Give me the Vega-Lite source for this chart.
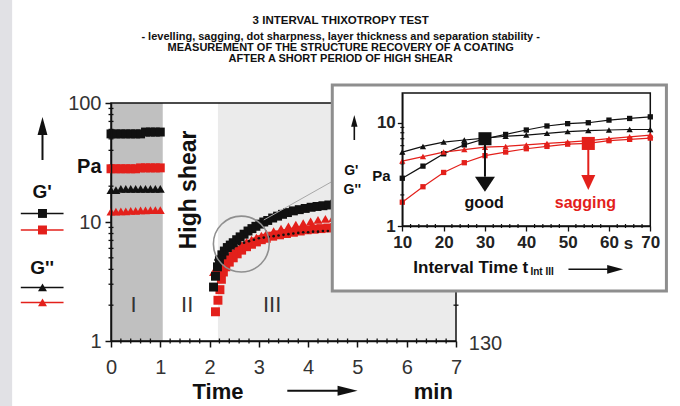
{
"$schema": "https://vega.github.io/schema/vega-lite/v6.json",
"width": 345, "height": 238,
"autosize": "none",
"padding": {"left": 111, "top": 103, "right": 224, "bottom": 65},
"background": "white",
"config": {"view": {"stroke": null}, "font": "Liberation Sans"},
"datasets": {
 "main": [
  {"p":"I","s":"Gp_good","t":0,"v":55},{"p":"I","s":"Gp_good","t":0.1,"v":55},{"p":"I","s":"Gp_good","t":0.2,"v":55},{"p":"I","s":"Gp_good","t":0.3,"v":55},{"p":"I","s":"Gp_good","t":0.4,"v":55},{"p":"I","s":"Gp_good","t":0.5,"v":55},{"p":"I","s":"Gp_good","t":0.6,"v":55},{"p":"I","s":"Gp_good","t":0.7,"v":57},{"p":"I","s":"Gp_good","t":0.8,"v":57},{"p":"I","s":"Gp_good","t":0.9,"v":57},{"p":"I","s":"Gp_good","t":1.0,"v":57},
  {"p":"I","s":"Gp_sag","t":0,"v":28},{"p":"I","s":"Gp_sag","t":0.1,"v":28},{"p":"I","s":"Gp_sag","t":0.2,"v":28},{"p":"I","s":"Gp_sag","t":0.3,"v":28},{"p":"I","s":"Gp_sag","t":0.4,"v":28},{"p":"I","s":"Gp_sag","t":0.5,"v":28},{"p":"I","s":"Gp_sag","t":0.6,"v":28.5},{"p":"I","s":"Gp_sag","t":0.7,"v":28.5},{"p":"I","s":"Gp_sag","t":0.8,"v":28.5},{"p":"I","s":"Gp_sag","t":0.9,"v":28.5},{"p":"I","s":"Gp_sag","t":1.0,"v":28.5},
  {"p":"I","s":"Gpp_good","t":0,"v":18.5},{"p":"I","s":"Gpp_good","t":0.1,"v":18.5},{"p":"I","s":"Gpp_good","t":0.2,"v":19},{"p":"I","s":"Gpp_good","t":0.3,"v":19},{"p":"I","s":"Gpp_good","t":0.4,"v":19},{"p":"I","s":"Gpp_good","t":0.5,"v":19},{"p":"I","s":"Gpp_good","t":0.6,"v":19},{"p":"I","s":"Gpp_good","t":0.7,"v":19},{"p":"I","s":"Gpp_good","t":0.8,"v":19},{"p":"I","s":"Gpp_good","t":0.9,"v":19},{"p":"I","s":"Gpp_good","t":1.0,"v":19},
  {"p":"I","s":"Gpp_sag","t":0,"v":12.2},{"p":"I","s":"Gpp_sag","t":0.1,"v":12.2},{"p":"I","s":"Gpp_sag","t":0.2,"v":12.3},{"p":"I","s":"Gpp_sag","t":0.3,"v":12.3},{"p":"I","s":"Gpp_sag","t":0.4,"v":12.4},{"p":"I","s":"Gpp_sag","t":0.5,"v":12.4},{"p":"I","s":"Gpp_sag","t":0.6,"v":12.5},{"p":"I","s":"Gpp_sag","t":0.7,"v":12.5},{"p":"I","s":"Gpp_sag","t":0.8,"v":12.6},{"p":"I","s":"Gpp_sag","t":0.9,"v":12.6},{"p":"I","s":"Gpp_sag","t":1.0,"v":12.6},
  {"p":"III","s":"Gpp_sag","t":2.08,"v":3.8},{"p":"III","s":"Gpp_sag","t":2.14,"v":4.1},{"p":"III","s":"Gpp_sag","t":2.2,"v":4.4},{"p":"III","s":"Gpp_sag","t":2.28,"v":4.8},{"p":"III","s":"Gpp_sag","t":2.36,"v":5.2},{"p":"III","s":"Gpp_sag","t":2.45,"v":5.6},{"p":"III","s":"Gpp_sag","t":2.55,"v":6.0},{"p":"III","s":"Gpp_sag","t":2.65,"v":6.4},{"p":"III","s":"Gpp_sag","t":2.75,"v":6.8},{"p":"III","s":"Gpp_sag","t":2.85,"v":7.1},{"p":"III","s":"Gpp_sag","t":2.95,"v":7.4},{"p":"III","s":"Gpp_sag","t":3.05,"v":7.7},{"p":"III","s":"Gpp_sag","t":3.15,"v":8.0},{"p":"III","s":"Gpp_sag","t":3.3,"v":8.4},{"p":"III","s":"Gpp_sag","t":3.45,"v":8.8},{"p":"III","s":"Gpp_sag","t":3.6,"v":9.2},{"p":"III","s":"Gpp_sag","t":3.75,"v":9.5},{"p":"III","s":"Gpp_sag","t":3.9,"v":9.8},{"p":"III","s":"Gpp_sag","t":4.05,"v":10.1},{"p":"III","s":"Gpp_sag","t":4.2,"v":10.4},{"p":"III","s":"Gpp_sag","t":4.35,"v":10.6},{"p":"III","s":"Gpp_sag","t":4.5,"v":10.8},
  {"p":"III","s":"Gp_sag","t":2.12,"v":1.76},{"p":"III","s":"Gp_sag","t":2.17,"v":2.2},{"p":"III","s":"Gp_sag","t":2.21,"v":2.7},{"p":"III","s":"Gp_sag","t":2.24,"v":3.3},{"p":"III","s":"Gp_sag","t":2.28,"v":3.8},{"p":"III","s":"Gp_sag","t":2.33,"v":4.2},{"p":"III","s":"Gp_sag","t":2.4,"v":4.6},{"p":"III","s":"Gp_sag","t":2.48,"v":5.0},{"p":"III","s":"Gp_sag","t":2.56,"v":5.4},{"p":"III","s":"Gp_sag","t":2.65,"v":5.8},{"p":"III","s":"Gp_sag","t":2.75,"v":6.2},{"p":"III","s":"Gp_sag","t":2.85,"v":6.5},{"p":"III","s":"Gp_sag","t":2.95,"v":6.8},{"p":"III","s":"Gp_sag","t":3.05,"v":7.1},{"p":"III","s":"Gp_sag","t":3.15,"v":7.3},{"p":"III","s":"Gp_sag","t":3.28,"v":7.6},{"p":"III","s":"Gp_sag","t":3.42,"v":7.8},{"p":"III","s":"Gp_sag","t":3.56,"v":8.0},{"p":"III","s":"Gp_sag","t":3.7,"v":8.2},{"p":"III","s":"Gp_sag","t":3.84,"v":8.4},{"p":"III","s":"Gp_sag","t":3.98,"v":8.6},{"p":"III","s":"Gp_sag","t":4.12,"v":8.7},{"p":"III","s":"Gp_sag","t":4.26,"v":8.8},{"p":"III","s":"Gp_sag","t":4.4,"v":8.9},{"p":"III","s":"Gp_sag","t":4.54,"v":9.0},
  {"p":"III","s":"Gp_good","t":2.08,"v":2.84},{"p":"III","s":"Gp_good","t":2.12,"v":3.5},{"p":"III","s":"Gp_good","t":2.16,"v":4.2},{"p":"III","s":"Gp_good","t":2.2,"v":4.8},{"p":"III","s":"Gp_good","t":2.25,"v":5.3},{"p":"III","s":"Gp_good","t":2.3,"v":5.7},{"p":"III","s":"Gp_good","t":2.36,"v":6.1},{"p":"III","s":"Gp_good","t":2.42,"v":6.4},{"p":"III","s":"Gp_good","t":2.48,"v":6.7},{"p":"III","s":"Gp_good","t":2.55,"v":7.1},{"p":"III","s":"Gp_good","t":2.62,"v":7.5},{"p":"III","s":"Gp_good","t":2.7,"v":7.9},{"p":"III","s":"Gp_good","t":2.78,"v":8.4},{"p":"III","s":"Gp_good","t":2.86,"v":8.8},{"p":"III","s":"Gp_good","t":2.94,"v":9.2},{"p":"III","s":"Gp_good","t":3.02,"v":9.6},{"p":"III","s":"Gp_good","t":3.1,"v":10.0},{"p":"III","s":"Gp_good","t":3.18,"v":10.3},{"p":"III","s":"Gp_good","t":3.28,"v":10.8},{"p":"III","s":"Gp_good","t":3.38,"v":11.2},{"p":"III","s":"Gp_good","t":3.48,"v":11.6},{"p":"III","s":"Gp_good","t":3.58,"v":12.0},{"p":"III","s":"Gp_good","t":3.7,"v":12.4},{"p":"III","s":"Gp_good","t":3.82,"v":12.7},{"p":"III","s":"Gp_good","t":3.94,"v":13.0},{"p":"III","s":"Gp_good","t":4.06,"v":13.3},{"p":"III","s":"Gp_good","t":4.18,"v":13.5},{"p":"III","s":"Gp_good","t":4.3,"v":13.7},{"p":"III","s":"Gp_good","t":4.42,"v":13.9},{"p":"III","s":"Gp_good","t":4.54,"v":14.1},
  {"p":"III","s":"Gpp_good","t":2.12,"v":4.8},{"p":"III","s":"Gpp_good","t":2.2,"v":5.2},{"p":"III","s":"Gpp_good","t":2.3,"v":5.6},{"p":"III","s":"Gpp_good","t":2.4,"v":5.9},{"p":"III","s":"Gpp_good","t":2.5,"v":6.2},{"p":"III","s":"Gpp_good","t":2.6,"v":6.5},{"p":"III","s":"Gpp_good","t":2.7,"v":6.7},{"p":"III","s":"Gpp_good","t":2.8,"v":6.9},{"p":"III","s":"Gpp_good","t":2.9,"v":7.1},{"p":"III","s":"Gpp_good","t":3.0,"v":7.3},{"p":"III","s":"Gpp_good","t":3.1,"v":7.4},{"p":"III","s":"Gpp_good","t":3.2,"v":7.5},{"p":"III","s":"Gpp_good","t":3.3,"v":7.6},{"p":"III","s":"Gpp_good","t":3.4,"v":7.7},{"p":"III","s":"Gpp_good","t":3.5,"v":7.8},{"p":"III","s":"Gpp_good","t":3.6,"v":7.9},{"p":"III","s":"Gpp_good","t":3.7,"v":8.0},{"p":"III","s":"Gpp_good","t":3.8,"v":8.1},{"p":"III","s":"Gpp_good","t":3.9,"v":8.2},{"p":"III","s":"Gpp_good","t":4.0,"v":8.2},{"p":"III","s":"Gpp_good","t":4.1,"v":8.3},{"p":"III","s":"Gpp_good","t":4.2,"v":8.3},{"p":"III","s":"Gpp_good","t":4.3,"v":8.4},{"p":"III","s":"Gpp_good","t":4.4,"v":8.4},{"p":"III","s":"Gpp_good","t":4.5,"v":8.5},
  {"p":"legend","s":"Gp_good","t":-1.39,"v":11.8},{"p":"legend","s":"Gp_sag","t":-1.39,"v":8.57},{"p":"legend","s":"Gpp_good","t":-1.39,"v":2.82},{"p":"legend","s":"Gpp_sag","t":-1.39,"v":2.11}
 ],
 "inset": [
  {"s":"Gp_good","t":10,"v":2.9},{"s":"Gp_good","t":15,"v":3.8},{"s":"Gp_good","t":20,"v":5.0},{"s":"Gp_good","t":25,"v":6.1},{"s":"Gp_good","t":30,"v":7.0},{"s":"Gp_good","t":35,"v":7.7},{"s":"Gp_good","t":40,"v":8.5},{"s":"Gp_good","t":45,"v":9.3},{"s":"Gp_good","t":50,"v":9.8},{"s":"Gp_good","t":55,"v":10.0},{"s":"Gp_good","t":60,"v":10.6},{"s":"Gp_good","t":65,"v":11.0},{"s":"Gp_good","t":70,"v":11.4},
  {"s":"Gpp_good","t":10,"v":5.2},{"s":"Gpp_good","t":15,"v":5.9},{"s":"Gpp_good","t":20,"v":6.5},{"s":"Gpp_good","t":25,"v":6.8},{"s":"Gpp_good","t":30,"v":7.1},{"s":"Gpp_good","t":35,"v":7.4},{"s":"Gpp_good","t":40,"v":7.6},{"s":"Gpp_good","t":45,"v":7.9},{"s":"Gpp_good","t":50,"v":8.2},{"s":"Gpp_good","t":55,"v":8.4},{"s":"Gpp_good","t":60,"v":8.5},{"s":"Gpp_good","t":65,"v":8.6},{"s":"Gpp_good","t":70,"v":8.6},
  {"s":"Gpp_sag","t":10,"v":4.25},{"s":"Gpp_sag","t":15,"v":4.7},{"s":"Gpp_sag","t":20,"v":5.2},{"s":"Gpp_sag","t":25,"v":5.5},{"s":"Gpp_sag","t":30,"v":5.8},{"s":"Gpp_sag","t":35,"v":5.9},{"s":"Gpp_sag","t":40,"v":6.1},{"s":"Gpp_sag","t":45,"v":6.3},{"s":"Gpp_sag","t":50,"v":6.5},{"s":"Gpp_sag","t":55,"v":6.7},{"s":"Gpp_sag","t":60,"v":7.0},{"s":"Gpp_sag","t":65,"v":7.3},{"s":"Gpp_sag","t":70,"v":7.6},
  {"s":"Gp_sag","t":10,"v":1.7},{"s":"Gp_sag","t":15,"v":2.4},{"s":"Gp_sag","t":20,"v":3.3},{"s":"Gp_sag","t":25,"v":4.1},{"s":"Gp_sag","t":30,"v":4.8},{"s":"Gp_sag","t":35,"v":5.2},{"s":"Gp_sag","t":40,"v":5.6},{"s":"Gp_sag","t":45,"v":5.9},{"s":"Gp_sag","t":50,"v":6.2},{"s":"Gp_sag","t":55,"v":6.3},{"s":"Gp_sag","t":60,"v":6.7},{"s":"Gp_sag","t":65,"v":6.9},{"s":"Gp_sag","t":70,"v":7.1}
 ],
 "mainMinorX": [{"t":0.2},{"t":0.4},{"t":0.6},{"t":0.8},{"t":1.2},{"t":1.4},{"t":1.6},{"t":1.8},{"t":2.2},{"t":2.4},{"t":2.6},{"t":2.8},{"t":3.2},{"t":3.4},{"t":3.6},{"t":3.8},{"t":4.2},{"t":4.4},{"t":4.6},{"t":4.8},{"t":5.2},{"t":5.4},{"t":5.6},{"t":5.8},{"t":6.2},{"t":6.4},{"t":6.6},{"t":6.8}],
 "mainMinorY": [{"v":2},{"v":3},{"v":4},{"v":5},{"v":6},{"v":7},{"v":8},{"v":9},{"v":20},{"v":30},{"v":40},{"v":50},{"v":60},{"v":70},{"v":80},{"v":90}],
 "insetMinorX": [{"t":12},{"t":14},{"t":16},{"t":18},{"t":22},{"t":24},{"t":26},{"t":28},{"t":32},{"t":34},{"t":36},{"t":38},{"t":42},{"t":44},{"t":46},{"t":48},{"t":52},{"t":54},{"t":56},{"t":58},{"t":62},{"t":64},{"t":66},{"t":68}],
 "insetMinorY": [{"v":2},{"v":3},{"v":4},{"v":5},{"v":6},{"v":7},{"v":8},{"v":9}]
},
"resolve": {"scale": {"x": "independent", "y": "independent", "color": "independent"}},
"layer": [
 {"layer": [
  {"data": {"values": [{"t1": -2.3, "t2": -2.006, "v1": 0.2, "v2": 1000}]},
   "mark": {"type": "rect", "fill": "#e1e1e5"},
   "encoding": {
    "x": {"field": "t1", "type": "quantitative", "scale": {"domain": [0, 7], "nice": false, "zero": false},
      "axis": {"title": null, "values": [0,1,2,3,4,5,6,7], "format": "d",
        "labelFont": "Liberation Sans", "labelFontSize": 20, "labelColor": "#333333", "labelPadding": 10, "labelOverlap": false, "labelFlush": false,
        "tickColor": "#111111", "tickWidth": 1.5, "tickSize": 6,
        "domainColor": "#111111", "domainWidth": 1.5, "grid": false, "zindex": 1}},
    "x2": {"field": "t2"},
    "y": {"field": "v1", "type": "quantitative", "scale": {"type": "log", "domain": [1, 100], "nice": false},
      "axis": {"title": null, "values": [1,10,100], "format": "d",
        "labelFont": "Liberation Sans", "labelFontSize": 20, "labelColor": "#333333", "labelPadding": 4, "labelOverlap": false, "labelFlush": false,
        "tickColor": "#111111", "tickWidth": 1.5, "tickSize": 6,
        "domainColor": "#111111", "domainWidth": 1.5, "grid": false, "zindex": 1}},
    "y2": {"field": "v2"}}},
  {"data": {"values": [{"t1": 0, "t2": 1.05, "v1": 1, "v2": 100}]},
   "mark": {"type": "rect", "fill": "#c0c0c0"},
   "encoding": {"x": {"field": "t1", "type": "quantitative"}, "x2": {"field": "t2"}, "y": {"field": "v1", "type": "quantitative"}, "y2": {"field": "v2"}}},
  {"data": {"values": [{"t1": 2.17, "t2": 7, "v1": 1, "v2": 100}]},
   "mark": {"type": "rect", "fill": "#ebebeb"},
   "encoding": {"x": {"field": "t1", "type": "quantitative"}, "x2": {"field": "t2"}, "y": {"field": "v1", "type": "quantitative"}, "y2": {"field": "v2"}}},
  {"data": {"values": [{"t1": 0, "t2": 7, "v1": 1, "v2": 100}]},
   "mark": {"type": "rect", "fillOpacity": 0, "stroke": "#111111", "strokeWidth": 1.5},
   "encoding": {"x": {"field": "t1", "type": "quantitative"}, "x2": {"field": "t2"}, "y": {"field": "v1", "type": "quantitative"}, "y2": {"field": "v2"}}},
  {"data": {"name": "mainMinorX"},
   "mark": {"type": "tick", "orient": "vertical", "size": 5, "thickness": 1.3, "color": "#111111", "opacity": 1},
   "encoding": {"x": {"field": "t", "type": "quantitative"}, "y": {"datum": 1, "type": "quantitative"}}},
  {"data": {"name": "mainMinorY"},
   "mark": {"type": "tick", "orient": "horizontal", "size": 5, "thickness": 1.3, "color": "#111111", "opacity": 1},
   "encoding": {"x": {"datum": 0, "type": "quantitative"}, "y": {"field": "v", "type": "quantitative"}}},
  {"data": {"name": "mainMinorY"},
   "mark": {"type": "tick", "orient": "horizontal", "size": 5, "thickness": 1.3, "color": "#111111", "opacity": 1},
   "encoding": {"x": {"datum": 7, "type": "quantitative"}, "y": {"field": "v", "type": "quantitative"}}},
  {"data": {"values": [{"s":"k","v":11.8},{"s":"r","v":8.57},{"s":"k","v":2.82},{"s":"r","v":2.11}]},
   "mark": {"type": "rule", "strokeWidth": 1.5},
   "encoding": {"x": {"datum": -1.83, "type": "quantitative"}, "x2": {"datum": -0.963}, "y": {"field": "v", "type": "quantitative"},
     "color": {"field": "s", "type": "nominal", "scale": {"domain": ["k","r"], "range": ["#111111","#e3201b"]}, "legend": null}}},
  {"data": {"name": "main"}, "transform": [{"filter": "datum.s === 'Gpp_sag'"}],
   "mark": {"type": "point", "shape": "triangle-up", "filled": true, "size": 80, "color": "#e3201b", "opacity": 1},
   "encoding": {"x": {"field": "t", "type": "quantitative"}, "y": {"field": "v", "type": "quantitative"}}},
  {"data": {"name": "main"}, "transform": [{"filter": "datum.s === 'Gp_sag'"}],
   "mark": {"type": "point", "shape": "square", "filled": true, "size": 80, "color": "#e3201b", "opacity": 1},
   "encoding": {"x": {"field": "t", "type": "quantitative"}, "y": {"field": "v", "type": "quantitative"}}},
  {"data": {"name": "main"}, "transform": [{"filter": "datum.s === 'Gp_good'"}],
   "mark": {"type": "point", "shape": "square", "filled": true, "size": 80, "color": "#111111", "opacity": 1},
   "encoding": {"x": {"field": "t", "type": "quantitative"}, "y": {"field": "v", "type": "quantitative"}}},
  {"data": {"name": "main"}, "transform": [{"filter": "datum.s === 'Gpp_good' && datum.p !== 'III'"}],
   "mark": {"type": "point", "shape": "triangle-up", "filled": true, "size": 80, "color": "#111111", "opacity": 1},
   "encoding": {"x": {"field": "t", "type": "quantitative"}, "y": {"field": "v", "type": "quantitative"}}},
  {"data": {"name": "main"}, "transform": [{"filter": "datum.s === 'Gpp_good' && datum.p === 'III'"}],
   "mark": {"type": "point", "shape": "circle", "filled": true, "size": 7, "color": "#111111", "opacity": 1},
   "encoding": {"x": {"field": "t", "type": "quantitative"}, "y": {"field": "v", "type": "quantitative"}}},
  {"data": {"values": [{"t": 2.644, "v": 6.53}]},
   "mark": {"type": "point", "shape": "circle", "filled": false, "size": 3117, "stroke": "#8f8f8f", "strokeWidth": 1.6, "opacity": 1},
   "encoding": {"x": {"field": "t", "type": "quantitative"}, "y": {"field": "v", "type": "quantitative"}}},
  {"data": {"values": [{"t": 3.1, "v": 10.4}, {"t": 4.52, "v": 22.3}]},
   "mark": {"type": "line", "color": "#a8a8a8", "strokeWidth": 1},
   "encoding": {"x": {"field": "t", "type": "quantitative"}, "y": {"field": "v", "type": "quantitative"}}},
  {"data": {"values": [{"t": -1.39, "v1": 33.2, "v2": 64}]},
   "mark": {"type": "rule", "color": "#111111", "strokeWidth": 2},
   "encoding": {"x": {"field": "t", "type": "quantitative"}, "y": {"field": "v1", "type": "quantitative"}, "y2": {"field": "v2"}}},
  {"data": {"values": [{"t": -1.39, "v": 64}]},
   "mark": {"type": "point", "shape": "M0,-1L0.55,1L-0.55,1Z", "filled": true, "size": 324, "color": "#111111", "opacity": 1},
   "encoding": {"x": {"field": "t", "type": "quantitative"}, "y": {"field": "v", "type": "quantitative"}}},
  {"data": {"values": [{"t1": 3.577, "t2": 4.8, "v": 0.382}]},
   "mark": {"type": "rule", "color": "#111111", "strokeWidth": 2},
   "encoding": {"x": {"field": "t1", "type": "quantitative"}, "x2": {"field": "t2"}, "y": {"field": "v", "type": "quantitative"}}},
  {"data": {"values": [{"t": 4.8, "v": 0.382}]},
   "mark": {"type": "point", "shape": "M1,0L-1,-0.5L-1,0.5Z", "filled": true, "size": 400, "color": "#111111", "opacity": 1},
   "encoding": {"x": {"field": "t", "type": "quantitative"}, "y": {"field": "v", "type": "quantitative"}}},
  {"data": {"values": [{"t": 4.66, "v": 488.8, "label": "3 INTERVAL THIXOTROPY TEST"}]},
   "mark": {"type": "text", "font": "Liberation Sans", "fontSize": 11.5, "fontWeight": "bold", "color": "#111111", "align": "center", "baseline": "middle"},
   "encoding": {"x": {"field": "t", "type": "quantitative"}, "y": {"field": "v", "type": "quantitative"}, "text": {"field": "label"}}},
  {"data": {"values": [{"t": 4.66, "v": 358.6, "label": "- levelling, sagging, dot sharpness, layer thickness and separation stability -"}, {"t": 4.66, "v": 289.8, "label": "MEASUREMENT OF THE STRUCTURE RECOVERY OF A COATING"}, {"t": 4.66, "v": 234.2, "label": "AFTER A SHORT PERIOD OF HIGH SHEAR"}]},
   "mark": {"type": "text", "font": "Liberation Sans", "fontSize": 11, "fontWeight": "bold", "color": "#111111", "align": "center", "baseline": "middle"},
   "encoding": {"x": {"field": "t", "type": "quantitative"}, "y": {"field": "v", "type": "quantitative"}, "text": {"field": "label"}}},
  {"data": {"values": [{"t": -0.44, "v": 29.2, "label": "Pa"}]},
   "mark": {"type": "text", "font": "Liberation Sans", "fontSize": 20, "fontWeight": "bold", "color": "#111111", "align": "center", "baseline": "middle"},
   "encoding": {"x": {"field": "t", "type": "quantitative"}, "y": {"field": "v", "type": "quantitative"}, "text": {"field": "label"}}},
  {"data": {"values": [{"t": -1.396, "v": 18.0, "label": "G'"}, {"t": -1.396, "v": 4.1, "label": "G''"}]},
   "mark": {"type": "text", "font": "Liberation Sans", "fontSize": 19, "fontWeight": "bold", "color": "#111111", "align": "center", "baseline": "middle"},
   "encoding": {"x": {"field": "t", "type": "quantitative"}, "y": {"field": "v", "type": "quantitative"}, "text": {"field": "label"}}},
  {"data": {"values": [{"t": 1.577, "v": 18.6, "label": "High shear"}]},
   "mark": {"type": "text", "font": "Liberation Sans", "fontSize": 23, "fontWeight": "bold", "color": "#111111", "align": "center", "baseline": "middle", "angle": 270},
   "encoding": {"x": {"field": "t", "type": "quantitative"}, "y": {"field": "v", "type": "quantitative"}, "text": {"field": "label"}}},
  {"data": {"values": [{"t": 0.46, "v": 2.0, "label": "I"}, {"t": 1.545, "v": 2.0, "label": "II"}, {"t": 3.27, "v": 2.0, "label": "III"}]},
   "mark": {"type": "text", "font": "Liberation Sans", "fontSize": 22, "color": "#333333", "align": "center", "baseline": "middle"},
   "encoding": {"x": {"field": "t", "type": "quantitative"}, "y": {"field": "v", "type": "quantitative"}, "text": {"field": "label"}}},
  {"data": {"values": [{"t": 2.17, "v": 0.372, "label": "Time"}, {"t": 6.54, "v": 0.372, "label": "min"}]},
   "mark": {"type": "text", "font": "Liberation Sans", "fontSize": 22, "fontWeight": "bold", "color": "#111111", "align": "center", "baseline": "middle"},
   "encoding": {"x": {"field": "t", "type": "quantitative"}, "y": {"field": "v", "type": "quantitative"}, "text": {"field": "label"}}},
  {"data": {"values": [{"t": 7.26, "v": 0.95, "label": "130"}]},
   "mark": {"type": "text", "font": "Liberation Sans", "fontSize": 20, "color": "#333333", "align": "left", "baseline": "middle"},
   "encoding": {"x": {"field": "t", "type": "quantitative"}, "y": {"field": "v", "type": "quantitative"}, "text": {"field": "label"}}}
 ]},
 {"layer": [
  {"data": {"values": [{"t1": -6.94, "t2": 73.9, "v1": 0.235, "v2": 23.2}]},
   "mark": {"type": "rect", "fill": "white", "stroke": "#8e8e8e", "strokeWidth": 3},
   "encoding": {
    "x": {"field": "t1", "type": "quantitative", "scale": {"domain": [10, 70], "range": [291.3, 539.3], "nice": false, "zero": false},
      "axis": {"orient": "bottom", "offset": -115, "title": null, "values": [10,20,30,40,50,60,70], "format": "d",
        "labelFont": "Liberation Sans", "labelFontSize": 17, "labelFontWeight": "bold", "labelColor": "#222222", "labelPadding": 3, "labelOverlap": false, "labelFlush": false,
        "tickColor": "#111111", "tickWidth": 1.3, "tickSize": 5,
        "domainColor": "#111111", "domainWidth": 1.5, "grid": false, "zindex": 1}},
    "x2": {"field": "t2"},
    "y": {"field": "v1", "type": "quantitative", "scale": {"type": "log", "domain": [1, 19.4], "range": [123, -10], "nice": false},
      "axis": {"orient": "left", "offset": -291.3, "title": null, "values": [1,10], "format": "d",
        "labelFont": "Liberation Sans", "labelFontSize": 17, "labelFontWeight": "bold", "labelColor": "#222222", "labelPadding": 2, "labelOverlap": false, "labelFlush": false,
        "tickColor": "#111111", "tickWidth": 1.3, "tickSize": 5,
        "domainColor": "#111111", "domainWidth": 1.5, "grid": false, "zindex": 1}},
    "y2": {"field": "v2"}}},
  {"data": {"values": [{"t1": 10, "t2": 70, "v1": 1, "v2": 19.4}]},
   "mark": {"type": "rect", "fillOpacity": 0, "stroke": "#111111", "strokeWidth": 1.5},
   "encoding": {"x": {"field": "t1", "type": "quantitative"}, "x2": {"field": "t2"}, "y": {"field": "v1", "type": "quantitative"}, "y2": {"field": "v2"}}},
  {"data": {"name": "insetMinorX"},
   "mark": {"type": "tick", "orient": "vertical", "size": 4, "thickness": 1.2, "color": "#111111", "opacity": 1},
   "encoding": {"x": {"field": "t", "type": "quantitative"}, "y": {"datum": 1, "type": "quantitative"}}},
  {"data": {"name": "insetMinorY"},
   "mark": {"type": "tick", "orient": "horizontal", "size": 4, "thickness": 1.2, "color": "#111111", "opacity": 1},
   "encoding": {"x": {"datum": 10, "type": "quantitative"}, "y": {"field": "v", "type": "quantitative"}}},
  {"data": {"name": "inset"},
   "mark": {"type": "line", "strokeWidth": 1.2},
   "encoding": {"x": {"field": "t", "type": "quantitative"}, "y": {"field": "v", "type": "quantitative"},
     "color": {"field": "s", "type": "nominal", "scale": {"domain": ["Gp_good","Gpp_good","Gp_sag","Gpp_sag"], "range": ["#111111","#111111","#e3201b","#e3201b"]}, "legend": null}}},
  {"data": {"name": "inset"}, "transform": [{"filter": "datum.s === 'Gp_good' || datum.s === 'Gp_sag'"}],
   "mark": {"type": "point", "shape": "square", "filled": true, "size": 28, "opacity": 1},
   "encoding": {"x": {"field": "t", "type": "quantitative"}, "y": {"field": "v", "type": "quantitative"}, "color": {"field": "s", "type": "nominal", "legend": null}}},
  {"data": {"name": "inset"}, "transform": [{"filter": "datum.s === 'Gpp_good' || datum.s === 'Gpp_sag'"}],
   "mark": {"type": "point", "shape": "triangle-up", "filled": true, "size": 40, "opacity": 1},
   "encoding": {"x": {"field": "t", "type": "quantitative"}, "y": {"field": "v", "type": "quantitative"}, "color": {"field": "s", "type": "nominal", "legend": null}}},
  {"data": {"values": [{"t": 30, "v1": 7.0, "v2": 3.0, "s": "Gp_good"}, {"t": 55, "v1": 6.3, "v2": 3.1, "s": "Gp_sag"}]},
   "mark": {"type": "rule", "strokeWidth": 2},
   "encoding": {"x": {"field": "t", "type": "quantitative"}, "y": {"field": "v1", "type": "quantitative"}, "y2": {"field": "v2"}, "color": {"field": "s", "type": "nominal", "legend": null}}},
  {"data": {"values": [{"t": 30, "v": 7.0, "s": "Gp_good"}, {"t": 55, "v": 6.3, "s": "Gp_sag"}]},
   "mark": {"type": "point", "shape": "square", "filled": true, "size": 170, "opacity": 1},
   "encoding": {"x": {"field": "t", "type": "quantitative"}, "y": {"field": "v", "type": "quantitative"}, "color": {"field": "s", "type": "nominal", "legend": null}}},
  {"data": {"values": [{"t": 30, "v": 2.54}]},
   "mark": {"type": "point", "shape": "M-1,-0.75L1,-0.75L0,0.75Z", "filled": true, "size": 400, "color": "#111111", "opacity": 1},
   "encoding": {"x": {"field": "t", "type": "quantitative"}, "y": {"field": "v", "type": "quantitative"}}},
  {"data": {"values": [{"t": 55, "v": 2.64}]},
   "mark": {"type": "point", "shape": "M-0.7,-0.75L0.7,-0.75L0,0.75Z", "filled": true, "size": 400, "color": "#e3201b", "opacity": 1},
   "encoding": {"x": {"field": "t", "type": "quantitative"}, "y": {"field": "v", "type": "quantitative"}}},
  {"data": {"values": [{"t": 29.8, "v": 1.67, "label": "good", "s": "Gp_good"}, {"t": 54.3, "v": 1.67, "label": "sagging", "s": "Gp_sag"}]},
   "mark": {"type": "text", "font": "Liberation Sans", "fontSize": 16, "fontWeight": "bold", "align": "center", "baseline": "middle"},
   "encoding": {"x": {"field": "t", "type": "quantitative"}, "y": {"field": "v", "type": "quantitative"}, "text": {"field": "label"}, "color": {"field": "s", "type": "nominal", "legend": null}}},
  {"data": {"values": [{"t": -2.34, "v": 3.41, "label": "G'"}, {"t": -2.1, "v": 2.23, "label": "G''"}]},
   "mark": {"type": "text", "font": "Liberation Sans", "fontSize": 14, "fontWeight": "bold", "color": "#111111", "align": "center", "baseline": "middle"},
   "encoding": {"x": {"field": "t", "type": "quantitative"}, "y": {"field": "v", "type": "quantitative"}, "text": {"field": "label"}}},
  {"data": {"values": [{"t": 4.92, "v": 3.05, "label": "Pa"}]},
   "mark": {"type": "text", "font": "Liberation Sans", "fontSize": 15, "fontWeight": "bold", "color": "#111111", "align": "center", "baseline": "middle"},
   "encoding": {"x": {"field": "t", "type": "quantitative"}, "y": {"field": "v", "type": "quantitative"}, "text": {"field": "label"}}},
  {"data": {"values": [{"t": 64.7, "v": 0.67, "label": "s"}]},
   "mark": {"type": "text", "font": "Liberation Sans", "fontSize": 17, "fontWeight": "bold", "color": "#222222", "align": "center", "baseline": "middle"},
   "encoding": {"x": {"field": "t", "type": "quantitative"}, "y": {"field": "v", "type": "quantitative"}, "text": {"field": "label"}}},
  {"data": {"values": [{"t": 12.66, "v": 0.388, "label": "Interval Time t"}]},
   "mark": {"type": "text", "font": "Liberation Sans", "fontSize": 17, "fontWeight": "bold", "color": "#111111", "align": "left", "baseline": "middle"},
   "encoding": {"x": {"field": "t", "type": "quantitative"}, "y": {"field": "v", "type": "quantitative"}, "text": {"field": "label"}}},
  {"data": {"values": [{"t": 41.0, "v": 0.355, "label": "Int III"}]},
   "mark": {"type": "text", "font": "Liberation Sans", "fontSize": 10, "fontWeight": "bold", "color": "#111111", "align": "left", "baseline": "middle"},
   "encoding": {"x": {"field": "t", "type": "quantitative"}, "y": {"field": "v", "type": "quantitative"}, "text": {"field": "label"}}},
  {"data": {"values": [{"t1": 50.2, "t2": 61.5, "v": 0.381}]},
   "mark": {"type": "rule", "color": "#111111", "strokeWidth": 1.6},
   "encoding": {"x": {"field": "t1", "type": "quantitative"}, "x2": {"field": "t2"}, "y": {"field": "v", "type": "quantitative"}}},
  {"data": {"values": [{"t": 61.5, "v": 0.381}]},
   "mark": {"type": "point", "shape": "M1,0L-1,-0.55L-1,0.55Z", "filled": true, "size": 256, "color": "#111111", "opacity": 1},
   "encoding": {"x": {"field": "t", "type": "quantitative"}, "y": {"field": "v", "type": "quantitative"}}},
  {"data": {"values": [{"t": -1.61, "v1": 6.8, "v2": 10.4}]},
   "mark": {"type": "rule", "color": "#111111", "strokeWidth": 1.6},
   "encoding": {"x": {"field": "t", "type": "quantitative"}, "y": {"field": "v1", "type": "quantitative"}, "y2": {"field": "v2"}}},
  {"data": {"values": [{"t": -1.61, "v": 10.4}]},
   "mark": {"type": "point", "shape": "M0,-1L0.55,1L-0.55,1Z", "filled": true, "size": 137, "color": "#111111", "opacity": 1},
   "encoding": {"x": {"field": "t", "type": "quantitative"}, "y": {"field": "v", "type": "quantitative"}}}
 ]}
]
}
